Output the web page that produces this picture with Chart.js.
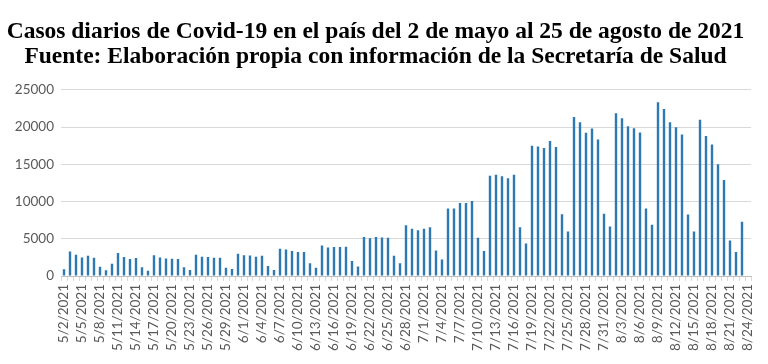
<!DOCTYPE html>
<html>
<head>
<meta charset="utf-8">
<script src="https://cdn.jsdelivr.net/npm/chart.js@4/dist/chart.umd.min.js"></script>
<style>
  html, body { margin: 0; padding: 0; background: #ffffff; }
  #wrap { width: 768px; height: 364px; position: relative; }
</style>
</head>
<body>
<div id="wrap"><canvas id="c" width="768" height="364"></canvas></div>
<script>
const titleLines = [
  "Casos diarios de Covid-19 en el país del 2 de mayo al 25 de agosto de 2021",
  "Fuente: Elaboración propia con información de la Secretaría de Salud"
];

const categories = [
  "5/2/2021","5/3/2021","5/4/2021","5/5/2021","5/6/2021","5/7/2021","5/8/2021","5/9/2021","5/10/2021","5/11/2021",
  "5/12/2021","5/13/2021","5/14/2021","5/15/2021","5/16/2021","5/17/2021","5/18/2021","5/19/2021","5/20/2021","5/21/2021",
  "5/22/2021","5/23/2021","5/24/2021","5/25/2021","5/26/2021","5/27/2021","5/28/2021","5/29/2021","5/30/2021","5/31/2021",
  "6/1/2021","6/2/2021","6/3/2021","6/4/2021","6/5/2021","6/6/2021","6/7/2021","6/8/2021","6/9/2021","6/10/2021",
  "6/11/2021","6/12/2021","6/13/2021","6/14/2021","6/15/2021","6/16/2021","6/17/2021","6/18/2021","6/19/2021","6/20/2021",
  "6/21/2021","6/22/2021","6/23/2021","6/24/2021","6/25/2021","6/26/2021","6/27/2021","6/28/2021","6/29/2021","6/30/2021",
  "7/1/2021","7/2/2021","7/3/2021","7/4/2021","7/5/2021","7/6/2021","7/7/2021","7/8/2021","7/9/2021","7/10/2021",
  "7/11/2021","7/12/2021","7/13/2021","7/14/2021","7/15/2021","7/16/2021","7/17/2021","7/18/2021","7/19/2021","7/20/2021",
  "7/21/2021","7/22/2021","7/23/2021","7/24/2021","7/25/2021","7/26/2021","7/27/2021","7/28/2021","7/29/2021","7/30/2021",
  "7/31/2021","8/1/2021","8/2/2021","8/3/2021","8/4/2021","8/5/2021","8/6/2021","8/7/2021","8/8/2021","8/9/2021",
  "8/10/2021","8/11/2021","8/12/2021","8/13/2021","8/14/2021","8/15/2021","8/16/2021","8/17/2021","8/18/2021","8/19/2021",
  "8/20/2021","8/21/2021","8/22/2021","8/23/2021","8/24/2021"
];

const casos = [
  900, 3300, 2850, 2500, 2720, 2450, 1250, 760, 1650, 3080,
  2540, 2270, 2400, 1160, 710, 2770, 2500, 2360, 2320, 2270,
  1160, 800, 2850, 2590, 2540, 2450, 2450, 1110, 940, 2990,
  2770, 2750, 2600, 2720, 1340, 800, 3660, 3570, 3345, 3210,
  3210, 1700, 1115, 4100, 3840, 3880, 3880, 3925, 2000, 1290,
  5220, 5080, 5220, 5170, 5130, 2720, 1700, 6820, 6330, 6150,
  6330, 6550, 3430, 2230, 9050, 9050, 9810, 9810, 10080, 5130,
  3345, 13470, 13600, 13380, 13130, 13600, 6550, 4370, 17480, 17390,
  17170, 18110, 17300, 8300, 5980, 21360, 20650, 19220, 19800, 18330,
  8340, 6650, 21850, 21190, 20110, 19850, 19270, 9050, 6870, 23330,
  22430, 20650, 19980, 19000, 8250, 5980, 20960, 18780, 17660, 14990,
  12890, 4770, 3210, 7270, 0
];

const yTicks = [0, 5000, 10000, 15000, 20000, 25000];

const BAR_COLOR = "#2E78B4";
const GRID_COLOR = "#D9D9D9";
const TEXT_COLOR = "#595959";

new Chart(document.getElementById("c"), {
  type: "bar",
  data: {
    labels: categories,
    datasets: [{
      label: "Casos diarios",
      data: casos,
      backgroundColor: BAR_COLOR,
      borderWidth: 0,
      barPercentage: 0.4,
      categoryPercentage: 1.0
    }]
  },
  options: {
    responsive: false,
    animation: false,
    devicePixelRatio: 1,
    layout: { padding: { left: 0, right: 17, top: 0, bottom: 0 } },
    plugins: {
      legend: { display: false },
      tooltip: { enabled: false },
      title: {
        display: true,
        text: titleLines,
        color: "#000000",
        font: { family: "'Liberation Serif', 'Times New Roman', serif", size: 23.5, weight: "bold", lineHeight: 1.08 },
        padding: { top: 19, bottom: 20 }
      }
    },
    scales: {
      x: {
        type: "category",
        offset: true,
        grid: {
          offset: true,
          drawOnChartArea: false,
          drawTicks: true,
          tickLength: 5,
          color: GRID_COLOR
        },
        border: { display: true, color: "#BFBFBF" },
        ticks: {
          autoSkip: false,
          maxRotation: 90,
          minRotation: 90,
          padding: 3,
          color: TEXT_COLOR,
          font: { family: "Lato, 'Liberation Sans', sans-serif", size: 13.5 },
          callback: function (value, index) {
            return index % 3 === 0 ? categories[index] : "";
          }
        },
        afterFit: function (scale) { scale.height = 88; }
      },
      y: {
        min: 0,
        max: 25000,
        afterBuildTicks: function (scale) { scale.ticks = yTicks.map(v => ({ value: v })); },
        grid: { color: GRID_COLOR, drawTicks: false, lineWidth: 1 },
        border: { display: false },
        ticks: {
          padding: 7,
          color: TEXT_COLOR,
          font: { family: "Lato, 'Liberation Sans', sans-serif", size: 13.5 },
          callback: function (value) { return String(value); }
        },
        afterFit: function (scale) { scale.width = 61; }
      }
    }
  }
});
</script>
</body>
</html>
